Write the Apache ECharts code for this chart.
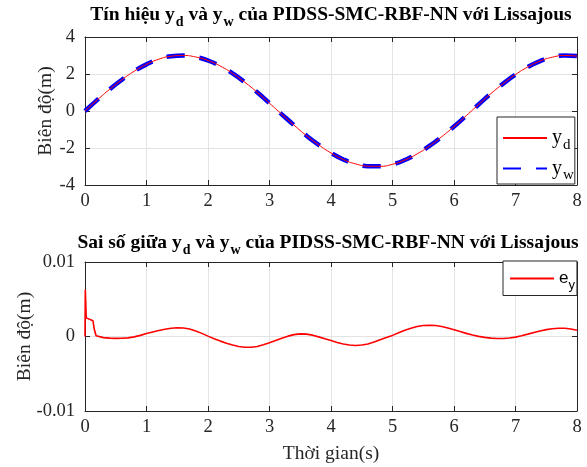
<!DOCTYPE html>
<html><head><meta charset="utf-8">
<script src="https://cdn.jsdelivr.net/npm/echarts@6/dist/echarts.min.js"></script>
<style>html,body{margin:0;padding:0;background:#fff}#c{width:587px;height:467px}</style>
</head><body><div id="c"></div>
<script>
// Top plot: time samples (s) and signals (m)
const tTop = [0,0.2,0.4,0.6,0.8,1.0,1.2,1.4,1.6,1.8,2.0,2.2,2.4,2.6,2.8,3.0,3.2,3.4,3.6,3.8,4.0,4.2,4.4,4.6,4.8,5.0,5.2,5.4,5.6,5.8,6.0,6.2,6.4,6.6,6.8,7.0,7.2,7.4,7.6,7.8,8.0];
const yd = [0,0.60,1.17,1.69,2.15,2.52,2.80,2.96,3.00,2.92,2.73,2.43,2.03,1.55,1.01,0.42,-0.18,-0.77,-1.33,-1.83,-2.27,-2.62,-2.86,-2.98,-2.99,-2.88,-2.65,-2.32,-1.89,-1.39,-0.84,-0.25,0.35,0.94,1.48,1.97,2.38,2.70,2.91,3.00,2.97];
const yw = [0,0.60,1.17,1.69,2.15,2.52,2.80,2.96,3.00,2.92,2.73,2.43,2.03,1.55,1.01,0.42,-0.18,-0.77,-1.33,-1.83,-2.27,-2.62,-2.86,-2.98,-2.99,-2.88,-2.65,-2.32,-1.89,-1.39,-0.84,-0.25,0.35,0.94,1.48,1.97,2.38,2.70,2.91,3.00,2.97];
// Bottom plot: error e_y, values in 1e-3 m
const tErr = [0,0.005,0.02,0.04,0.13,0.15,0.18,0.2,0.3,0.4,0.5,0.6,0.7,0.8,0.9,1.0,1.1,1.2,1.3,1.4,1.5,1.6,1.7,1.8,1.9,2.0,2.1,2.2,2.3,2.4,2.5,2.6,2.7,2.8,2.9,3.0,3.1,3.2,3.3,3.4,3.5,3.6,3.7,3.8,3.9,4.0,4.1,4.2,4.3,4.4,4.5,4.6,4.7,4.8,4.9,5.0,5.1,5.2,5.3,5.4,5.5,5.6,5.7,5.8,5.9,6.0,6.1,6.2,6.3,6.4,6.5,6.6,6.7,6.8,6.9,7.0,7.1,7.2,7.3,7.4,7.5,7.6,7.7,7.8,7.9,8.0];
const eyMilli = [0,6.3,2.5,2.25,2.1,1.0,0.1,0.0,-0.15,-0.22,-0.25,-0.24,-0.18,-0.05,0.15,0.4,0.6,0.8,0.98,1.1,1.17,1.14,1.0,0.75,0.42,0.05,-0.3,-0.62,-0.9,-1.15,-1.35,-1.45,-1.45,-1.35,-1.12,-0.85,-0.55,-0.25,0.05,0.25,0.35,0.32,0.18,-0.05,-0.3,-0.55,-0.8,-1.0,-1.15,-1.2,-1.15,-1.0,-0.75,-0.45,-0.15,0.15,0.5,0.85,1.12,1.35,1.48,1.52,1.48,1.35,1.15,0.92,0.68,0.42,0.2,0.02,-0.12,-0.22,-0.27,-0.27,-0.2,-0.08,0.1,0.32,0.55,0.75,0.92,1.05,1.1,1.1,1.0,0.85];
const xTicks = [0,1,2,3,4,5,6,7,8];
const topYTicks = [-4,-2,0,2,4];
const botYTicks = [-0.01,0,0.01];

const FONT = '"Liberation Serif","Times New Roman",serif';
const SANS = '"Liberation Sans",Arial,sans-serif';
const AX = '#262626';
const chart = echarts.init(document.getElementById('c'), null, {renderer:'canvas'});

function zip(a,b){return a.map((v,i)=>[v,b[i]]);}
const subRich = {
  m:{fontFamily:FONT,fontSize:19.5,fontWeight:'bold',color:'#000'},
  s:{fontFamily:FONT,fontSize:14,fontWeight:'bold',color:'#000',padding:[14,0,0,1]}
};
const legRich = {
  m:{fontFamily:FONT,fontSize:20,color:'#000'},
  s:{fontFamily:FONT,fontSize:15,color:'#000',padding:[14,0,0,1]}
};
const legRichSans = {
  m:{fontFamily:SANS,fontSize:17,color:'#000'},
  s:{fontFamily:SANS,fontSize:13,color:'#000',padding:[13,0,0,0]}
};

function mainX(g, name){
  return {gridIndex:g,type:'value',min:0,max:8,interval:1,
    name:name||'',nameLocation:'middle',nameGap:33,nameMoveOverlap:false,
    nameTextStyle:{fontFamily:FONT,fontSize:19.5,color:AX},
    axisLine:{show:true,onZero:false,lineStyle:{color:AX,width:1}},
    axisTick:{show:true,inside:true,length:5,lineStyle:{color:AX}},
    axisLabel:{fontFamily:FONT,fontSize:18.5,color:AX,margin:7,formatter:v=>xTicks.includes(v)?String(v):''},
    splitLine:{show:true,lineStyle:{color:'#e3e3e3',width:1}}};
}
function topX(g){
  return {gridIndex:g,type:'value',position:'top',min:0,max:8,interval:1,
    axisLine:{show:true,onZero:false,lineStyle:{color:AX,width:1}},
    axisTick:{show:true,inside:true,length:5,lineStyle:{color:AX}},
    axisLabel:{show:false},splitLine:{show:false}};
}
function mainY(g,min,max,interval,gap,ticks){
  return {gridIndex:g,type:'value',min:min,max:max,interval:interval,
    name:'Biên độ(m)',nameLocation:'middle',nameGap:gap,nameMoveOverlap:false,
    nameTextStyle:{fontFamily:FONT,fontSize:19.5,color:AX},
    axisLine:{show:true,onZero:false,lineStyle:{color:AX,width:1}},
    axisTick:{show:true,inside:true,length:5,lineStyle:{color:AX}},
    axisLabel:{fontFamily:FONT,fontSize:18.5,color:AX,margin:10,
      formatter:v=>{const t=ticks.find(x=>Math.abs(x-v)<1e-9);return t===undefined?'':String(t);}},
    splitLine:{show:true,lineStyle:{color:'#e3e3e3',width:1}}};
}
function rightY(g,min,max,interval){
  return {gridIndex:g,type:'value',position:'right',min:min,max:max,interval:interval,
    axisLine:{show:true,onZero:false,lineStyle:{color:AX,width:1}},
    axisTick:{show:true,inside:true,length:5,lineStyle:{color:AX}},
    axisLabel:{show:false},splitLine:{show:false}};
}

chart.setOption({
  animation:false,
  backgroundColor:'#fff',
  title:[
    {text:'Tín hiệu y{s|d} và y{s|w} của PIDSS-SMC-RBF-NN với Lissajous',left:326,top:-4,textAlign:'center',
     textStyle:{fontFamily:FONT,fontSize:19.5,fontWeight:'bold',color:'#000',rich:subRich}},
    {text:'Sai số giữa y{s|d} và y{s|w} của PIDSS-SMC-RBF-NN với Lissajous',left:323,top:224,textAlign:'center',
     textStyle:{fontFamily:FONT,fontSize:19.5,fontWeight:'bold',color:'#000',rich:subRich}}
  ],
  grid:[
    {left:85,right:10,top:37,height:148,containLabel:false},
    {left:85,right:10,top:262,height:149,containLabel:false}
  ],
  xAxis:[mainX(0),topX(0),mainX(1,'Thời gian(s)'),topX(1)],
  yAxis:[mainY(0,-4,4,2,29,topYTicks),rightY(0,-4,4,2),mainY(1,-0.01,0.01,0.01,50,botYTicks),rightY(1,-0.01,0.01,0.01)],
  legend:[
    {data:[{name:'yd',itemStyle:{opacity:0}},{name:'yw',itemStyle:{opacity:0}}],orient:'vertical',left:497,top:117,
     itemWidth:44,itemHeight:14,itemGap:6,padding:[11,1,1,5],
     backgroundColor:'#fff',borderColor:AX,borderWidth:1,borderRadius:0,
     formatter:n=>n==='yd'?'{m|y}{s|d}':'{m|y}{s|w}',
     textStyle:{rich:legRich}},
    {data:[{name:'ey',itemStyle:{opacity:0}}],orient:'vertical',left:503,top:261,
     itemWidth:44,itemHeight:14,padding:[9,2,4,6],
     backgroundColor:'#fff',borderColor:AX,borderWidth:1,borderRadius:0,
     formatter:()=> '{m|e}{s|y}',
     textStyle:{rich:legRichSans}}
  ],
  series:[
    {name:'yd',type:'line',xAxisIndex:0,yAxisIndex:0,data:zip(tTop,yd),smooth:true,symbol:'none',
     lineStyle:{color:'#ff0000',width:1},itemStyle:{color:'#ff0000'},z:3},
    {name:'yw',type:'line',xAxisIndex:0,yAxisIndex:0,data:zip(tTop,yw),smooth:true,symbol:'none',
     lineStyle:{color:'#0000ff',width:4.5,type:[18,15],cap:'butt'},itemStyle:{color:'#0000ff'},z:2},
    {name:'ey',type:'line',xAxisIndex:2,yAxisIndex:2,data:zip(tErr,eyMilli.map(v=>v/1000)),smooth:false,symbol:'none',
     lineStyle:{color:'#ff0000',width:1.6},itemStyle:{color:'#ff0000'}}
  ]
});
</script></body></html>
